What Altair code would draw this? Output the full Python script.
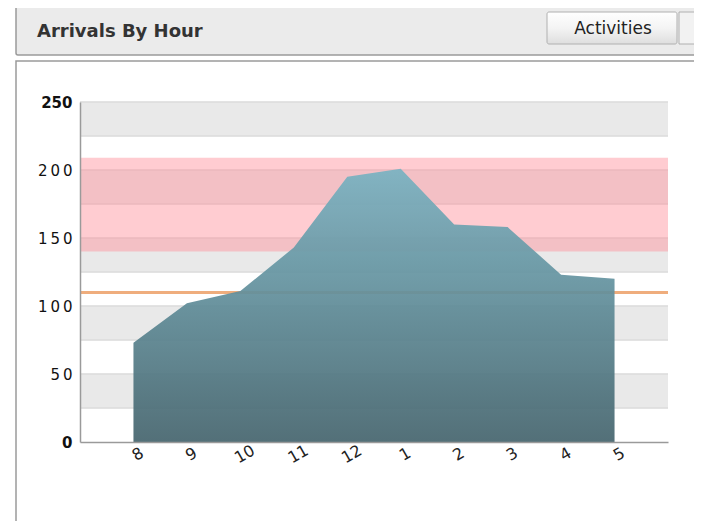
import altair as alt
import pandas as pd

# ---- data ----
hours = ["8", "9", "10", "11", "12", "1", "2", "3", "4", "5"]
arrivals = [73, 102, 111, 143, 195, 201, 160, 158, 123, 120]
y_ticks = [0, 50, 100, 150, 200, 250]
band_starts = [25, 75, 125, 175, 225]
band_size = 25
grid_lines = [25, 50, 75, 100, 125, 150, 175, 200, 225, 250]
target_low, target_high = 140, 209
threshold = 110
title_text = "Arrivals By Hour"
button_text = "Activities"

W, H = 588, 340
FONT = "DejaVu Sans"

df = pd.DataFrame({"hour": hours, "arrivals": arrivals})
bands = pd.DataFrame({"y": band_starts, "y2": [b + band_size for b in band_starts]})
grid = pd.DataFrame({"y": grid_lines})
target = pd.DataFrame({"lo": [target_low], "hi": [target_high]})
thr = pd.DataFrame({"y": [threshold]})
one = pd.DataFrame({"k": [0]})

BOLD_TEST = "datum.value == 0 || datum.value == 250"
yscale = alt.Scale(domain=[0, 250], nice=False, zero=True)
yaxis = alt.Axis(title=None, values=y_ticks, domainColor="#9a9a9a", domainWidth=1.5,
                 ticks=False, grid=False, labelFont=FONT, labelFontSize=15,
                 labelColor="#111111", labelPadding=8, zindex=2,
                 labelExpr="(" + BOLD_TEST + ") ? datum.label : join(split(datum.label, ''), '\u2009')",
                 labelFontWeight={"condition": {"test": BOLD_TEST, "value": "bold"},
                                  "value": "normal"})

# ---- decorative panel (header, button, content box) ----
header = alt.Chart(one).mark_rect(
    fill="#ebebeb", stroke="#9a9a9a", strokeWidth=1.5, cornerRadius=2
).encode(x=alt.value(-64), x2=alt.value(660), y=alt.value(-98), y2=alt.value(-47))

content = alt.Chart(one).mark_rect(
    fill="white", stroke="#9a9a9a", strokeWidth=1.5
).encode(x=alt.value(-64), x2=alt.value(660), y=alt.value(-41), y2=alt.value(460))

button = alt.Chart(one).mark_rect(
    fill=alt.Gradient(
        gradient="linear",
        stops=[alt.GradientStop(color="#ffffff", offset=0),
               alt.GradientStop(color="#f4f4f4", offset=0.5),
               alt.GradientStop(color="#dedede", offset=1)],
        x1=1, x2=1, y1=0, y2=1),
    stroke="#b0b0b0", strokeWidth=1, cornerRadius=2
).encode(x=alt.value(467), x2=alt.value(597), y=alt.value(-90), y2=alt.value(-58))

button2 = alt.Chart(one).mark_rect(
    fill="#f2f2f2", stroke="#b0b0b0", strokeWidth=1
).encode(x=alt.value(599), x2=alt.value(660), y=alt.value(-90), y2=alt.value(-58))

title = alt.Chart(one).mark_text(
    text=title_text, font=FONT, fontSize=18, fontWeight="bold",
    color="#333333", align="left", baseline="middle"
).encode(x=alt.value(-43), y=alt.value(-70))

btn_text = alt.Chart(one).mark_text(
    text=button_text, font=FONT, fontSize=17, color="#222222",
    align="center", baseline="middle"
).encode(x=alt.value(533), y=alt.value(-73))

# ---- chart background bands ----
band_layer = alt.Chart(bands).mark_rect(fill="#e9e9e9").encode(
    x=alt.value(0), x2=alt.value(W),
    y=alt.Y("y:Q", scale=yscale, axis=yaxis), y2="y2:Q")

grid_layer = alt.Chart(grid).mark_rule(color="#dcdcdc", strokeWidth=2, opacity=0.8).encode(
    x=alt.value(0), x2=alt.value(W),
    y=alt.Y("y:Q", scale=yscale, axis=yaxis))

target_layer = alt.Chart(target).mark_rect(fill="#ff8f99", opacity=0.45).encode(
    x=alt.value(0), x2=alt.value(W),
    y=alt.Y("lo:Q", scale=yscale, axis=yaxis), y2="hi:Q")

thr_layer = alt.Chart(thr).mark_rule(color="#efad7d", strokeWidth=3).encode(
    x=alt.value(0), x2=alt.value(W),
    y=alt.Y("y:Q", scale=yscale, axis=yaxis))

area = alt.Chart(df).mark_area(
    fill=alt.Gradient(
        gradient="linear",
        stops=[alt.GradientStop(color="#7ab3c2", offset=0),
               alt.GradientStop(color="#46656e", offset=1)],
        x1=1, x2=1, y1=0, y2=1),
    opacity=0.93, interpolate="linear"
).encode(
    x=alt.X("hour:O", sort=hours, scale=alt.Scale(type="point", padding=1),
            axis=alt.Axis(title=None, domainColor="#9a9a9a", domainWidth=1.5, ticks=False,
                          labelAngle=330, labelFont=FONT, labelFontSize=16,
                          labelColor="#222222", labelAlign="center",
                          labelBaseline="top", labelPadding=5, zindex=2)),
    y=alt.Y("arrivals:Q", scale=yscale, axis=yaxis),
)

chart = alt.layer(
    content, header, button, button2, title, btn_text,
    band_layer, grid_layer, target_layer, thr_layer, area
).properties(
    width=W, height=H,
    autosize=alt.AutoSizeParams(type="none"),
    padding={"left": 72, "top": 94, "right": 26, "bottom": 79},
).configure_view(stroke=None).configure(background="white")

chart.save("out.html", embed_options={"renderer": "svg", "actions": False})
